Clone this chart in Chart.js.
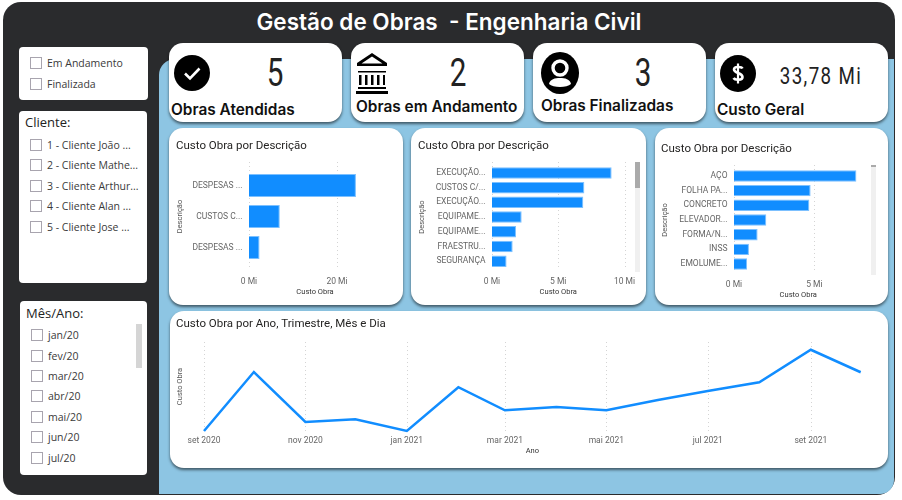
<!DOCTYPE html>
<html lang="pt-BR">
<head>
<meta charset="utf-8">
<title>Gestão de Obras</title>
<script src="https://cdn.jsdelivr.net/npm/chart.js@4"></script>
<style>
html, body { margin: 0; padding: 0; background: #fff; }
#page { position: relative; width: 902px; height: 500px; overflow: hidden; font-family: "Open Sans", sans-serif; }
#page div, #page canvas, #page svg { position: absolute; }
#base { left: 3px; top: 2px; width: 892px; height: 493px; background: #2a2b2d; border-radius: 18px; }
#panel { left: 159px; top: 59px; width: 735px; height: 435px; background: #8dc5e3; border-radius: 16px 0 14px 0; }
#header { left: 3px; top: 8px; width: 892px; text-align: center; color: #fff; font: 600 22.5px Inter, sans-serif; white-space: pre; }
.card { background: #fff; border-radius: 14px; box-shadow: 0 2px 3px rgba(0,0,0,.55); }
.slicer { background: #fff; border-radius: 4px; }
.kpi { text-align: center; color: #222; font-family: Roboto, sans-serif; transform: translate(-50%, -50%) scaleX(.78); white-space: nowrap; }
.kpi-label { font: 600 15.4px Inter, sans-serif; color: #111; transform: translateY(-50%); white-space: nowrap; }
.slicer-title { font-size: 13px; color: #222; transform: translateY(-50%); white-space: nowrap; }
.box { width: 10px; height: 10px; border: 1px solid #a8a4ae; transform: translateY(-50%); }
.item { font-size: 10.5px; color: #3a3a3a; transform: translateY(-50%); white-space: nowrap; }
.track { background: #f0f0f0; }
.thumb { background: #aaa; }
</style>
</head>
<body>
<div id="page">
  <div id="base"></div>
  <div id="panel"></div>
  <div id="header">Gestão de Obras  - Engenharia Civil</div>
</div>
<script>
const kpiValores = ['5', '2', '3', '33,78 Mi'];
const kpiTitulos = ['Obras Atendidas', 'Obras em Andamento', 'Obras Finalizadas', 'Custo Geral'];

const statusObra = ['Em Andamento', 'Finalizada'];
const clientes = ['1 - Cliente João ...', '2 - Cliente Mathe...', '3 - Cliente Arthur...', '4 - Cliente Alan ...', '5 - Cliente Jose ...'];
const mesesAno = ['jan/20', 'fev/20', 'mar/20', 'abr/20', 'mai/20', 'jun/20', 'jul/20'];

const descricaoA = ['DESPESAS ...', 'CUSTOS C...', 'DESPESAS ...'];
const custoA = [24.3, 7.0, 2.4];

const descricaoB = ['EXECUÇÃO...', 'CUSTOS C/...', 'EXECUÇÃO...', 'EQUIPAME...', 'EQUIPAME...', 'FRAESTRU...', 'SEGURANÇA'];
const custoB = [9.03, 6.97, 6.89, 2.24, 1.81, 1.56, 1.1];

const descricaoC = ['AÇO', 'FOLHA PA...', 'CONCRETO', 'ELEVADOR...', 'FORMA/N...', 'INSS', 'EMOLUME...'];
const custoC = [7.62, 4.77, 4.69, 2.01, 1.47, 0.93, 0.81];

// dias contados a partir de 01/09/2020
const diasMes = [0, 30, 61, 91, 122, 153, 181, 212, 242, 273, 303, 334, 365, 395];
const custoMes = [1.13, 3.49, 1.49, 1.6, 1.13, 2.88, 1.96, 2.09, 1.96, 2.37, 2.73, 3.08, 4.38, 3.48];
const diasTick = [0, 61, 122, 181, 242, 303, 365];
const rotulosTick = ['set 2020', 'nov 2020', 'jan 2021', 'mar 2021', 'mai 2021', 'jul 2021', 'set 2021'];

const AZUL = '#118dff';
const FONTE = 'Roboto, sans-serif';
const page = document.getElementById('page');

function addDiv(cls, left, top, text, css) {
    const d = document.createElement('div');
    d.className = cls;
    d.style.left = left + 'px';
    d.style.top = top + 'px';
    if (text) d.textContent = text;
    if (css) Object.assign(d.style, css);
    page.appendChild(d);
    return d;
}

function addCard(cls, x1, y1, x2, y2) {
    return addDiv(cls, x1, y1, '', { width: (x2 - x1) + 'px', height: (y2 - y1) + 'px' });
}

// filtros da esquerda
addCard('slicer', 19, 47, 148, 100);
addCard('slicer', 19, 111, 147, 283);
addCard('slicer', 20, 301, 147, 475);

function addItens(itens, posY, xBox) {
    itens.forEach((txt, i) => {
        addDiv('box', xBox, posY[i], '');
        addDiv('item', xBox + 17, posY[i], txt);
    });
}
addItens(statusObra, [63, 84], 30);
addDiv('slicer-title', 25, 122, 'Cliente:');
addItens(clientes, [145, 165, 186, 206, 227], 30);
addDiv('slicer-title', 26, 313, 'Mês/Ano:');
addItens(mesesAno, [335, 356, 376, 396, 417, 437, 458], 31);
addDiv('', 136, 324, '', { width: '6px', height: '44px', background: '#d5d5d5' });

// cartoes de indicadores
[[169, 342], [351, 524], [533, 706], [715, 888]].forEach(c => addCard('card', c[0], 43, c[1], 122));
addDiv('kpi', 275, 73, kpiValores[0], { fontSize: '38px' });
addDiv('kpi', 458, 73, kpiValores[1], { fontSize: '38px' });
addDiv('kpi', 643, 73, kpiValores[2], { fontSize: '38px' });
addDiv('kpi', 821, 76, kpiValores[3], { fontSize: '24px', letterSpacing: '1.8px' });
addDiv('kpi-label', 171, 109, kpiTitulos[0]);
addDiv('kpi-label', 356, 106, kpiTitulos[1]);
addDiv('kpi-label', 541, 105, kpiTitulos[2]);
addDiv('kpi-label', 717, 109, kpiTitulos[3]);

page.insertAdjacentHTML('beforeend', `
<svg style="left:174px;top:55px" width="36" height="36" viewBox="0 0 36 36">
  <circle cx="18" cy="18" r="18" fill="#000"/>
  <path d="M11 18.5l5 5 9.5-10" fill="none" stroke="#fff" stroke-width="2.6"/>
</svg>
<svg style="left:356px;top:52px" width="32" height="42" viewBox="0 0 32 42">
  <path d="M16 1L31 11V14H1V11ZM16 4.5L5.5 11.5H26.5Z" fill="#000" fill-rule="evenodd"/>
  <path d="M2 19H30V20.5H2ZM3 23H5.5V33H3ZM9 23H11.5V33H9ZM15 23H17.5V33H15ZM21 23H23.5V33H21ZM27 23H29V33H27ZM2 35H30V37H2ZM0 39H32V42H0Z" fill="#000"/>
</svg>
<svg style="left:541px;top:52px" width="38" height="42" viewBox="0 0 38 42">
  <ellipse cx="19" cy="21" rx="19" ry="21" fill="#000"/>
  <circle cx="19" cy="16" r="7" fill="none" stroke="#fff" stroke-width="3.4"/>
  <path d="M8 32C9 27 14 26 19 26C24 26 29 27 30 32C26 36 12 36 8 32Z" fill="#fff"/>
</svg>
<svg style="left:720px;top:55px" width="36" height="37" viewBox="0 0 36 37">
  <ellipse cx="18" cy="18.5" rx="18" ry="18.5" fill="#000"/>
  <path d="M22.5 13.5C21.5 11.5 14 11 14 14.5C14 18.500 22.500 17.500 22.500 22C22.500 25.500 15 25.500 13.500 23" fill="none" stroke="#fff" stroke-width="2.6"/>
  <path d="M18 8.500V28.500" stroke="#fff" stroke-width="2.2"/>
</svg>`);

const gradePontilhada = {
    id: 'gradePontilhada',
    beforeDatasetsDraw(chart, args, opts) {
        const { ctx, scales } = chart;
        ctx.save();
        ctx.strokeStyle = '#d4d4d4';
        ctx.lineWidth = 1;
        ctx.setLineDash([1, 3]);
        scales.x.ticks.forEach(t => {
            const x = Math.round(scales.x.getPixelForValue(t.value)) + 0.5;
            ctx.beginPath();
            ctx.moveTo(x, opts.topo);
            ctx.lineTo(x, opts.base);
            ctx.stroke();
        });
        ctx.restore();
    }
};
Chart.register(gradePontilhada);

// monta o canvas dentro do cartao e calcula os paddings para cair na area do grafico
function addCanvas(card, id) {
    addCard('card', card.x1, card.y1, card.x2, card.y2);
    const cv = document.createElement('canvas');
    cv.id = id;
    cv.width = card.x2 - card.x1;
    cv.height = card.y2 - card.y1;
    cv.style.left = card.x1 + 'px';
    cv.style.top = card.y1 + 'px';
    page.appendChild(cv);
    return cv;
}

function fixarX(altura) {
    return s => { s.height = altura; s.paddingLeft = 0; s.paddingRight = 0; };
}

function opcoesComuns(card, area, titulo) {
    const alturaTitulo = 11.5 * 1.2;
    const padTop = area.titleY - card.y1 - alturaTitulo / 2;
    return {
        responsive: false,
        animation: false,
        devicePixelRatio: 1,
        layout: {
            padding: {
                left: area.left - card.x1,
                right: card.x2 - area.x1,
                top: 0,
                bottom: card.y2 - area.y1 - area.eixoX
            }
        },
        plugins: {
            legend: { display: false },
            tooltip: { enabled: false },
            gradePontilhada: { topo: area.gradeTopo, base: area.gradeBase },
            title: {
                display: true,
                text: titulo,
                align: 'start',
                color: '#252423',
                font: { family: FONTE, size: 11.5, weight: 'normal' },
                padding: { top: padTop, bottom: area.y0 - card.y1 - padTop - alturaTitulo }
            }
        }
    };
}

function graficoBarras(id, card, area, rotulos, valores, maximo, passo) {
    const base = opcoesComuns(card, area, 'Custo Obra por Descrição');
    new Chart(addCanvas(card, id), {
        type: 'bar',
        data: { labels: rotulos, datasets: [{ data: valores, backgroundColor: AZUL, borderColor: '#7cc0ff', borderWidth: 1, categoryPercentage: area.ocupa, barPercentage: 1 }] },
        options: {
            ...base,
            indexAxis: 'y',
            scales: {
                x: {
                    min: 0,
                    max: maximo,
                    grid: { display: false, drawTicks: false },
                    border: { display: false },
                    afterBuildTicks: s => { s.ticks = s.ticks.filter(t => t.value % passo === 0); },
                    afterFit: fixarX(area.eixoX),
                    ticks: {
                        stepSize: passo,
                        padding: area.padTick,
                        maxRotation: 0,
                        color: '#666',
                        font: { family: FONTE, size: 8.5 },
                        callback: v => v + ' Mi'
                    },
                    title: { display: true, text: 'Custo Obra', color: '#333', padding: 0, font: { family: FONTE, size: 7.5 } }
                },
                y: {
                    grid: { display: false, drawTicks: false },
                    border: { display: false },
                    afterFit: s => { s.width = area.x0 - area.left; },
                    ticks: { autoSkip: false, padding: 6.5, color: '#666', font: { family: FONTE, size: 8.5 } },
                    title: { display: true, text: 'Descrição', color: '#555', padding: 0, font: { family: FONTE, size: 7.5 } }
                }
            }
        }
    });
}

graficoBarras('barrasA', { x1: 169, y1: 128, x2: 403, y2: 305 },
    { left: 176, x0: 249, x1: 381, y0: 170, y1: 263, titleY: 146.5, gradeTopo: 34, gradeBase: 140, eixoX: 33.9, padTick: 13.5, ocupa: 0.74 },
    descricaoA, custoA, 30, 20);

graficoBarras('barrasB', { x1: 411, y1: 128, x2: 646, y2: 305 },
    { left: 418, x0: 492, x1: 624.5, y0: 165.6, y1: 268.5, titleY: 146.5, gradeTopo: 34, gradeBase: 140, eixoX: 27.7, padTick: 8, ocupa: 0.78 },
    descricaoB, custoB, 10, 5);

graficoBarras('barrasC', { x1: 655, y1: 128, x2: 888, y2: 305 },
    { left: 661, x0: 734, x1: 862.5, y0: 168.6, y1: 271.4, titleY: 149.5, gradeTopo: 37, gradeBase: 143, eixoX: 28.5, padTick: 8, ocupa: 0.78 },
    descricaoC, custoC, 8, 5);

addDiv('track', 635, 162, '', { width: '5px', height: '110px' });
addDiv('thumb', 635, 162, '', { width: '5px', height: '26px' });
addDiv('track', 871, 165, '', { width: '5px', height: '110px' });
addDiv('thumb', 871, 165, '', { width: '5px', height: '2px' });

// linha mensal
const cardLinha = { x1: 170, y1: 311, x2: 888, y2: 468 };
const areaLinha = { left: 176, x0: 204, x1: 860.7, y0: 342, y1: 431, titleY: 324, gradeTopo: 31, gradeBase: 120, eixoX: 24.9 };
new Chart(addCanvas(cardLinha, 'linhaMes'), {
    type: 'line',
    data: {
        datasets: [{
            data: diasMes.map((d, i) => ({ x: d, y: custoMes[i] })),
            borderColor: AZUL,
            borderWidth: 2.5,
            pointRadius: 0,
            tension: 0,
            clip: false
        }]
    },
    options: {
        ...opcoesComuns(cardLinha, areaLinha, 'Custo Obra por Ano, Trimestre, Mês e Dia'),
        scales: {
            x: {
                type: 'linear',
                min: 0,
                max: 395,
                grid: { display: false, drawTicks: false },
                border: { display: false },
                afterBuildTicks: s => { s.ticks = diasTick.map(v => ({ value: v })); },
                afterFit: fixarX(areaLinha.eixoX),
                ticks: {
                    padding: 4.5,
                    autoSkip: false,
                    maxRotation: 0,
                    color: '#666',
                    font: { family: FONTE, size: 8.5 },
                    callback: v => rotulosTick[diasTick.indexOf(v)]
                },
                title: { display: true, text: 'Ano', color: '#333', padding: 0, font: { family: FONTE, size: 7.5 } }
            },
            y: {
                min: 1.13,
                max: 4.69,
                grid: { display: false, drawTicks: false },
                border: { display: false },
                afterFit: s => { s.width = areaLinha.x0 - areaLinha.left; },
                ticks: { display: false },
                title: { display: true, text: 'Custo Obra', color: '#555', padding: 0, font: { family: FONTE, size: 7.5 } }
            }
        }
    }
});
</script>
</body>
</html>
